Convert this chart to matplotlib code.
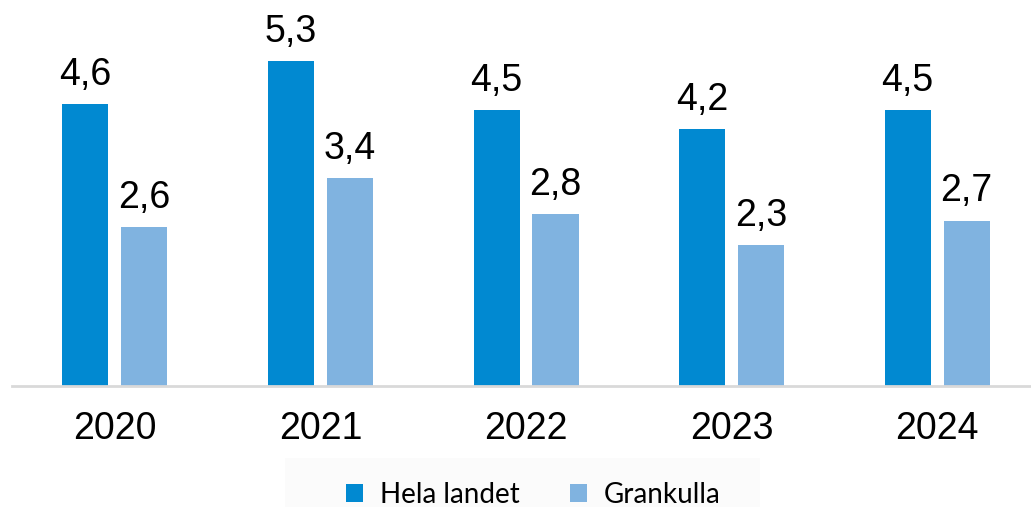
import matplotlib

matplotlib.use("Agg")
import matplotlib.pyplot as plt
import numpy as np
from matplotlib.patches import Rectangle

years = ["2020", "2021", "2022", "2023", "2024"]
hela_landet = [4.6, 5.3, 4.5, 4.2, 4.5]
grankulla = [2.6, 3.4, 2.8, 2.3, 2.7]
series_names = ["Hela landet", "Grankulla"]
colors = ["#0189D1", "#80B3E0"]

plt.rcParams["font.family"] = ["Liberation Sans", "DejaVu Sans"]

fig = plt.figure(figsize=(10.31, 5.07), dpi=100)
# faint panel behind the legend
fig.patches.append(Rectangle((285 / 1031, 0), 475 / 1031, 49 / 507,
                             transform=fig.transFigure, facecolor="#fbfbfb",
                             edgecolor="none", zorder=0))
ax = fig.add_axes([12 / 1031, 1 - 386 / 507, 1 - 12 / 1031, 386 / 507])

x = np.arange(len(years))
width = 0.224
offset = 0.1435
for vals, name, color, dx in zip([hela_landet, grankulla], series_names, colors, [-offset, offset]):
    bars = ax.bar(x + dx, vals, width=width, color=color, label=name, zorder=2)
    for b, v in zip(bars, vals):
        ax.annotate(f"{v:.1f}".replace(".", ","), (b.get_x() + b.get_width() / 2, v),
                    xytext=(0, 8), textcoords="offset points",
                    ha="center", va="bottom", fontsize=27, color="#000000")

ax.set_xlim(-0.501, 4.457)
ax.set_ylim(0, 6.3)
ax.set_xticks(x)
ax.set_xticklabels(years, fontsize=27)
ax.tick_params(axis="x", length=0, pad=18)
ax.set_yticks([])
for side in ["top", "right", "left"]:
    ax.spines[side].set_visible(False)
ax.spines["bottom"].set_color("#d9d9d9")
ax.spines["bottom"].set_linewidth(2)
ax.patch.set_alpha(0)

fig.legend(loc="center", bbox_to_anchor=(533 / 1031, 1 - 495 / 507), ncol=2,
           frameon=False, prop={"family": "Lato", "size": 20},
           handlelength=0.62, handleheight=0.62, handletextpad=0.6, columnspacing=1.8,
           borderpad=0.1)

fig.savefig("out.png", dpi=100)
